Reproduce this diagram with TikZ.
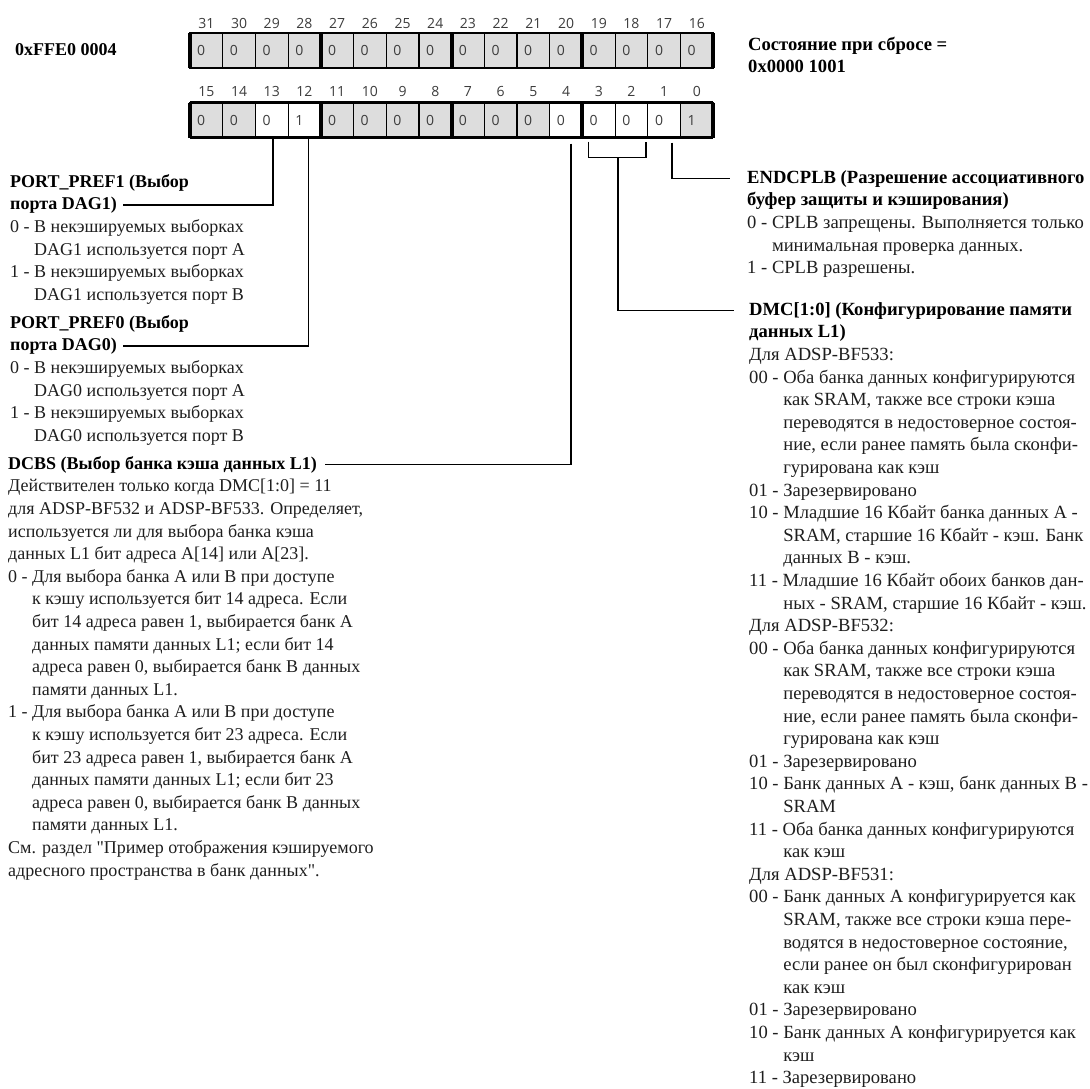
\documentclass[tikz,border=0pt]{standalone}
\usepackage{fontspec}
\setmainfont{Liberation Serif}[Ligatures=TeXOff]
\newfontfamily\bitfont{Open Sans}
\usetikzlibrary{positioning}

\definecolor{cellgray}{RGB}{221,221,221}
\definecolor{txtgray}{RGB}{30,30,30}
\definecolor{numgray}{RGB}{60,60,60}

% hanging indents of the value lists
\newcommand\indA{\phantom{0 - }}
\newcommand\indB{\phantom{00 - }}

\begin{document}
\begin{tikzpicture}[x=1pt, y=-1pt,
  cell/.style={draw, line width=1.2pt, minimum width=32.7pt,
               minimum height=35pt, inner sep=0pt, outer sep=0pt},
  rsv/.style={cell, fill=cellgray},
  bitno/.style={font=\bitfont\fontsize{14}{16}\selectfont, text=numgray,
                inner sep=0pt},
  bitval/.style={font=\bitfont\fontsize{14}{16}\selectfont, text=numgray,
                 inner sep=0pt, anchor=west},
  title/.style={font=\bfseries\fontsize{18}{22.6}\selectfont,
                anchor=base west, inner sep=0pt, align=left},
  desc/.style={font=\fontsize{18}{22.6}\selectfont, text=txtgray,
               anchor=north west, inner sep=0pt, align=left},
  rtitle/.style={title, font=\bfseries\fontsize{18.6}{22.6}\selectfont},
  rdesc/.style={desc, font=\fontsize{18.6}{22.6}\selectfont},
  wire/.style={draw, line width=1.8pt},
  nib/.style={line width=4pt}
]
  \useasboundingbox (0,0) rectangle (1090,1088);

  % register, upper half
  \foreach \b/\v/\s [count=\i from 0] in {31/0/rsv,30/0/rsv,29/0/rsv,28/0/rsv,
      27/0/rsv,26/0/rsv,25/0/rsv,24/0/rsv,23/0/rsv,22/0/rsv,21/0/rsv,20/0/rsv,
      19/0/rsv,18/0/rsv,17/0/rsv,16/0/rsv} {
    \node[\s] (b\b) at ({206.35+\i*32.7},50.5) {};
    \node[bitval] at ([xshift=7pt]b\b.west) {\v};
    \node[bitno] at ([yshift=10pt]b\b.north) {\b};
  }
  % register, lower half
  \foreach \b/\v/\s [count=\i from 0] in {15/0/rsv,14/0/rsv,13/0/cell,12/1/cell,
      11/0/rsv,10/0/rsv,9/0/rsv,8/0/rsv,7/0/rsv,6/0/rsv,5/0/rsv,4/0/cell,
      3/0/cell,2/0/cell,1/0/cell,0/1/rsv} {
    \node[\s] (b\b) at ({206.35+\i*32.7},120) {};
    \node[bitval] at ([xshift=7pt]b\b.west) {\v};
    \node[bitno] at ([yshift=11pt]b\b.north) {\b};
  }
  \draw[line width=2.5pt] (b31.north west) -- (b16.north east)
                          (b31.south west) -- (b16.south east)
                          (b15.north west) -- (b0.north east)
                          (b15.south west) -- (b0.south east);
  \foreach \b in {31,27,23,19,15,11,7,3}
    \draw[nib] (b\b.north west) -- (b\b.south west);
  \draw[nib] (b16.north east) -- (b16.south east);
  \draw[nib] (b0.north east) -- (b0.south east);

  \node[title] (addr) at (15,55) {0xFFE0 0004};
  \node[rtitle] (rsta) at (748,50) {Состояние при сбросе =};
  \node[rtitle] (rstb) at ([yshift=-22.6pt]rsta.base west) {0x0000 1001};

  % left column
  \node[title] (pp1a) at (10,187) {PORT\_PREF1 (Выбор};
  \node[title] (pp1b) at ([yshift=-22.6pt]pp1a.base west) {порта DAG1)};
  \node[desc] (pp1) at ([yshift=-6.78pt]pp1b.base west)
    {\strut 0 - В некэшируемых выборках\\
     \indA DAG1 используется порт А\\
     1 - В некэшируемых выборках\\
     \indA DAG1 используется порт В};

  \node[title] (pp0a) at (10,328) {PORT\_PREF0 (Выбор};
  \node[title] (pp0b) at ([yshift=-22.6pt]pp0a.base west) {порта DAG0)};
  \node[desc] (pp0) at ([yshift=-6.78pt]pp0b.base west)
    {\strut 0 - В некэшируемых выборках\\
     \indA DAG0 используется порт А\\
     1 - В некэшируемых выборках\\
     \indA DAG0 используется порт В};

  \node[title] (dcbs) at (8,469) {DCBS (Выбор банка кэша данных L1)};
  \node[desc] (dcbsd) at ([yshift=-6.78pt]dcbs.base west)
    {\strut Действителен только когда DMC[1:0] = 11\\
     для ADSP-BF532 и ADSP-BF533. Определяет,\\
     используется ли для выбора банка кэша\\
     данных L1 бит адреса A[14] или A[23].\\
     0 - Для выбора банка А или В при доступе\\
     \indA к кэшу используется бит 14 адреса. Если\\
     \indA бит 14 адреса равен 1, выбирается банк А\\
     \indA данных памяти данных L1; если бит 14\\
     \indA адреса равен 0, выбирается банк В данных\\
     \indA памяти данных L1.\\
     1 - Для выбора банка А или В при доступе\\
     \indA к кэшу используется бит 23 адреса. Если\\
     \indA бит 23 адреса равен 1, выбирается банк А\\
     \indA данных памяти данных L1; если бит 23\\
     \indA адреса равен 0, выбирается банк В данных\\
     \indA памяти данных L1.\\
     См. раздел "Пример отображения кэшируемого\\
     адресного пространства в банк данных".};

  % right column
  \node[rtitle] (endc) at (747,183) {ENDCPLB (Разрешение ассоциативного};
  \node[rtitle] (endcb) at ([yshift=-22.6pt]endc.base west) {буфер защиты и кэширования)};
  \node[rdesc] (endcd) at ([yshift=-6.78pt]endcb.base west)
    {\strut 0 - CPLB запрещены. Выполняется только\\
     \indA минимальная проверка данных.\\
     1 - CPLB разрешены.};

  \node[rtitle] (dmc) at (749,315) {DMC[1:0] (Конфигурирование памяти};
  \node[rtitle] (dmcb) at ([yshift=-22.6pt]dmc.base west) {данных L1)};
  \node[rdesc] (dmcd) at ([yshift=-6.78pt]dmcb.base west)
    {\strut Для ADSP-BF533:\\
     00 - Оба банка данных конфигурируются\\
     \indB как SRAM, также все строки кэша\\
     \indB переводятся в недостоверное состоя-\\
     \indB ние, если ранее память была сконфи-\\
     \indB гурирована как кэш\\
     01 - Зарезервировано\\
     10 - Младшие 16 Кбайт банка данных А -\\
     \indB SRAM, старшие 16 Кбайт - кэш. Банк\\
     \indB данных В - кэш.\\
     11 - Младшие 16 Кбайт обоих банков дан-\\
     \indB ных - SRAM, старшие 16 Кбайт - кэш.\\
     Для ADSP-BF532:\\
     00 - Оба банка данных конфигурируются\\
     \indB как SRAM, также все строки кэша\\
     \indB переводятся в недостоверное состоя-\\
     \indB ние, если ранее память была сконфи-\\
     \indB гурирована как кэш\\
     01 - Зарезервировано\\
     10 - Банк данных А - кэш, банк данных В -\\
     \indB SRAM\\
     11 - Оба банка данных конфигурируются\\
     \indB как кэш\\
     Для ADSP-BF531:\\
     00 - Банк данных А конфигурируется как\\
     \indB SRAM, также все строки кэша пере-\\
     \indB водятся в недостоверное состояние,\\
     \indB если ранее он был сконфигурирован\\
     \indB как кэш\\
     01 - Зарезервировано\\
     10 - Банк данных А конфигурируется как\\
     \indB кэш\\
     11 - Зарезервировано};

  % connectors from the bits to their fields
  \draw[wire] ([xshift=1pt]b13.south) |- ([xshift=6pt]pp1b.east);
  \draw[wire] ([xshift=4pt]b12.south) |- ([xshift=6pt]pp0b.east);
  \draw[wire] ([xshift=5pt,yshift=-6pt]b4.south) |- ([xshift=8pt]dcbs.east);
  \coordinate (brl) at ([xshift=6pt,yshift=-4pt]b3.south west);
  \coordinate (brr) at ([xshift=-2pt,yshift=-4pt]b2.south east);
  \coordinate (brm) at ([xshift=3pt,yshift=-20pt]b2.south west);
  \draw[wire] (brl) |- (brm) -| (brr);
  \draw[wire] (brm) |- ([xshift=-15pt]dmc.west);
  \draw[wire] ([xshift=8pt,yshift=-5pt]b1.south) |- ([xshift=-17pt]endc.west);
\end{tikzpicture}
\end{document}
